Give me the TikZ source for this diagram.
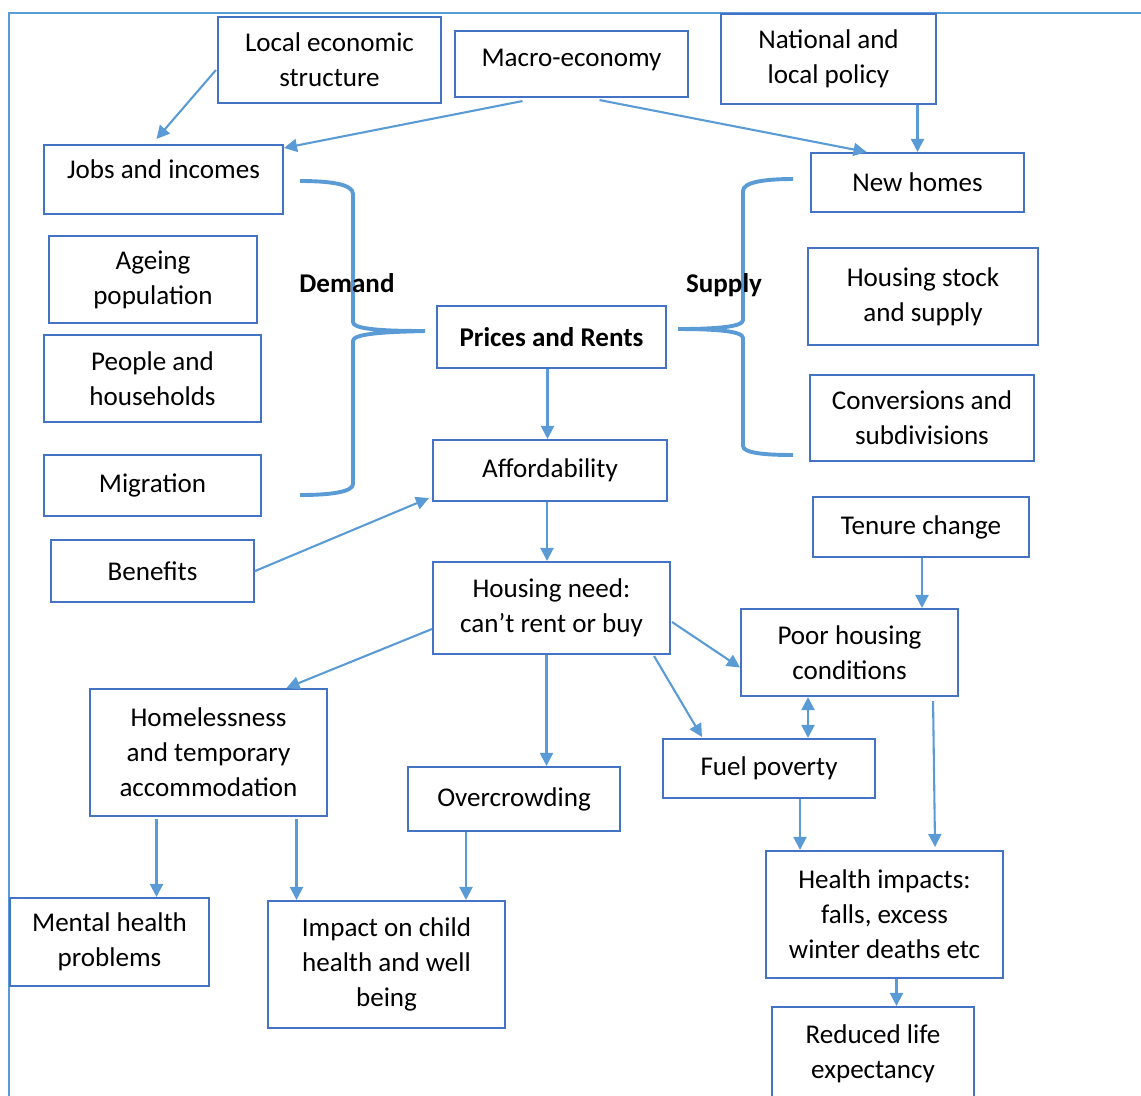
\documentclass[tikz,border=0pt]{standalone}
\usepackage{fontspec}
\setmainfont{Carlito}
\usetikzlibrary{calc, arrows.meta}

\definecolor{boxblue}{RGB}{68,114,196}
\definecolor{arrowblue}{RGB}{91,155,213}

\begin{document}
\begin{tikzpicture}[x=0.0135cm, y=-0.0135cm,
  box/.style={draw=boxblue, line width=0.8pt, align=center, inner sep=0pt,
    font=\fontsize{10.4pt}{13.45pt}\selectfont},
  sz/.style 2 args={minimum width=#1*0.0135cm, minimum height=#2*0.0135cm},
  heavy/.style={font=\fontsize{10.4pt}{13.45pt}\selectfont\bfseries},
  arr/.style={draw=arrowblue, line width=0.8pt, -{Triangle[length=5pt,width=5pt]}},
  brace/.style={draw=arrowblue, line width=1.5pt}]
  \clip (0,0) rectangle (1141,1095);
  % Page frame
  \draw[arrowblue, line width=0.6pt] (9,1110) -- (9,13) -- (1150,13);
  % Top row
  \node[box, sz={223}{86}] (les) at (329.5,60) {Local economic\\structure};
  \node[box, sz={233}{66}, text depth=4.5pt] (macro) at (571.5,64) {Macro-economy};
  \node[box, sz={215}{90}] (policy) at (828.5,59) {National and\\local policy};
  % Demand side
  \node[box, sz={239}{69}, text depth=8pt] (jobs) at (163.5,179.5) {Jobs and incomes};
  \node[box, sz={208}{87}] (ageing) at (153,279.5) {Ageing\\population};
  \node[box, sz={217}{87}] (people) at (152.5,378.5) {People and\\households};
  \node[box, sz={217}{61}] (migration) at (152.5,485.5) {Migration};
  \node[box, sz={203}{62}] (benefits) at (152.5,571) {Benefits};
  % Supply side
  \node[box, sz={213}{59}] (newhomes) at (917.5,182.5) {New homes};
  \node[box, sz={230}{97}] (stock) at (923,296.5) {Housing stock\\and supply};
  \node[box, sz={224}{86}] (conv) at (922,418) {Conversions and\\subdivisions};
  \node[box, sz={216}{60}] (tenure) at (921,527) {Tenure change};
  % Middle column
  \node[box, heavy, sz={229}{62}] (prices) at (551.5,337) {Prices and Rents};
  \node[box, sz={234}{61}] (afford) at (550,470.5) {Affordability};
  \node[box, sz={237}{92}] (need) at (551.5,608) {Housing need:\\can’t rent or buy};
  % Outcomes
  \node[box, sz={217}{87}] (poor) at (849.5,652.5) {Poor housing\\conditions};
  \node[box, sz={212}{59}] (fuel) at (769,768.5) {Fuel poverty};
  \node[box, sz={212}{64}] (overcrowd) at (514,799) {Overcrowding};
  \node[box, sz={237}{127}] (homeless) at (208.5,752.5) {Homelessness\\and temporary\\accommodation};
  \node[box, sz={199}{88}] (mental) at (109.5,942) {Mental health\\problems};
  \node[box, sz={237}{127}] (child) at (386.5,964.5) {Impact on child\\health and well\\being};
  \node[box, sz={237}{127}] (health) at (884.5,914.5) {Health impacts:\\falls, excess\\winter deaths etc};
  \node[box, sz={202}{94}] (life) at (873,1054) {Reduced life\\expectancy};
  % Braces
  \draw[brace] (300,181) .. controls (330,181) and (353,184) .. (353,194) -- (353,322)
    .. controls (353,329) and (380,331) .. (425,331)
    .. controls (380,332) and (353,334) .. (353,341) -- (353,484)
    .. controls (353,492) and (330,495) .. (300,495);
  \draw[brace] (793,179) .. controls (765,179) and (743,182) .. (743,191) -- (743,320)
    .. controls (743,327) and (715,329) .. (678,329)
    .. controls (715,329) and (743,331) .. (743,338) -- (743,446)
    .. controls (743,453) and (765,455) .. (793,455);
  \node[heavy] (demand) at (347,283) {Demand};
  \node[heavy] (supply) at (724,285) {Supply};
  % Arrows
  \draw[arr] ($(les.west)+(-1,10)$) -- ($(jobs.north)+(-7,-5)$);
  \draw[arr] ($(macro.south)+(-49,3)$) -- ($(jobs.north east)+(0,4)$);
  \draw[arr] ($(macro.south)+(28,2)$) -- ($(newhomes.north)+(-51,0)$);
  \draw[arr] (newhomes.north |- policy.south) -- (newhomes.north);
  \draw[arr] ($(prices.south)+(-4,0)$) coordinate (p1) -- (p1 |- afford.north);
  \draw[arr] ($(afford.south)+(-3,0)$) coordinate (a1) -- (a1 |- need.north);
  \draw[arr] (benefits.east) -- ($(afford.south west)+(-3,-4)$);
  \draw[arr] ($(need.west)+(0,21)$) -- ($(homeless.north)+(78,0)$);
  \draw[arr] ($(need.south)+(-5,0)$) coordinate (n1) -- (n1 |- overcrowd.north);
  \draw[arr] ($(need.south east)+(-17,1)$) -- ($(fuel.north west)+(40,-1)$);
  \draw[arr] ($(need.east)+(1,14)$) -- ($(poor.west)+(0,15)$);
  \draw[arr] ($(tenure.south)+(1,0)$) coordinate (t1) -- (t1 |- poor.north);
  \draw[arr, {Triangle[length=5pt,width=5pt]}-{Triangle[length=5pt,width=5pt]}]
    ($(poor.south)+(-41.5,0)$) coordinate (c1) -- (c1 |- fuel.north);
  \draw[arr] ($(fuel.south)+(31,0)$) coordinate (f1) -- (f1 |- health.north);
  \draw[arr] ($(poor.south east)+(-26,4)$) -- ($(health.north east)+(-69,-3)$);
  \draw[arr] ($(health.south)+(12,0)$) coordinate (h1) -- (h1 |- life.north);
  \draw[arr] ($(homeless.south)+(-52,2)$) coordinate (m1) -- (m1 |- mental.north);
  \draw[arr] ($(homeless.south)+(88,2)$) coordinate (m2) -- (m2 |- child.north);
  \draw[arr] ($(overcrowd.south)+(-48,0)$) coordinate (o1) -- (o1 |- child.north);
\end{tikzpicture}
\end{document}
